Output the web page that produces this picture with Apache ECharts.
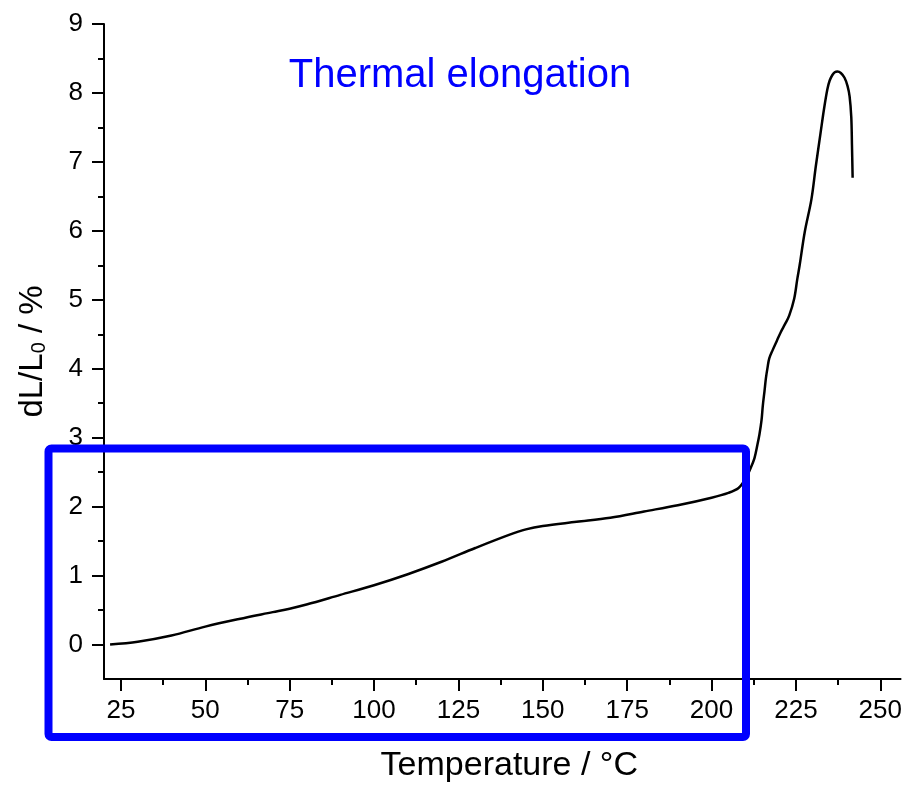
<!DOCTYPE html>
<html><head><meta charset="utf-8">
<script src="https://cdn.jsdelivr.net/npm/echarts@6/dist/echarts.min.js"></script>
<style>html,body{margin:0;padding:0;background:#fff}#c{width:905px;height:788px}</style>
</head><body><div id="c"></div>
<script>
const temperature = [21.8, 30, 40, 50, 60, 70, 75, 80, 90, 100, 110, 120, 130, 140, 145, 150, 160, 170, 180, 190, 200, 205, 208, 210, 211.5, 212.7, 213.6, 214.2, 214.8, 215.2, 215.7, 216.1, 216.6, 217.1, 218.1, 219.3, 220.5, 221.8, 223, 224.5, 225.4, 226.1, 227.6, 229.6, 230.9, 232.3, 233.3, 234.3, 235.0, 235.8, 236.5, 237.3, 238.3, 239.4, 240.3, 240.9, 241.4, 241.6, 241.8];
const elongation = [0.0, 0.04, 0.13, 0.26, 0.37, 0.47, 0.52, 0.58, 0.72, 0.86, 1.02, 1.20, 1.40, 1.59, 1.67, 1.72, 1.78, 1.84, 1.93, 2.02, 2.13, 2.20, 2.27, 2.40, 2.55, 2.70, 2.90, 3.05, 3.25, 3.47, 3.68, 3.86, 4.02, 4.15, 4.27, 4.40, 4.53, 4.65, 4.77, 5.02, 5.30, 5.50, 5.98, 6.46, 6.94, 7.42, 7.76, 8.05, 8.18, 8.26, 8.30, 8.31, 8.29, 8.22, 8.10, 7.95, 7.65, 7.25, 6.77];
const xMajorTicks = [25, 50, 75, 100, 125, 150, 175, 200, 225, 250];
const xMinorTicks = [37.5, 62.5, 87.5, 112.5, 137.5, 162.5, 187.5, 212.5, 237.5];
const yMajorTicks = [0, 1, 2, 3, 4, 5, 6, 7, 8, 9];
const yMinorTicks = [0.5, 1.5, 2.5, 3.5, 4.5, 5.5, 6.5, 7.5, 8.5];
const titleText = 'Thermal elongation';
const xName = 'Temperature / °C';

const FONT = 'Liberation Sans, Arial, Helvetica, sans-serif';
const X_MIN = 20, X_MAX = 256, Y_MIN = -0.5, Y_MAX = 9;

const chart = echarts.init(document.getElementById('c'), null, {renderer: 'canvas'});
const axisLine = {show: true, onZero: false, lineStyle: {color: '#000', width: 2}};
const option = {
  animation: false,
  backgroundColor: '#fff',
  grid: {left: 104, top: 24, right: 0, bottom: 106, containLabel: false},
  xAxis: [{
    type: 'value', min: X_MIN, max: X_MAX, position: 'bottom',
    axisLine: axisLine,
    axisTick: {show: true, length: 12, lineStyle: {color: '#000', width: 2}, customValues: xMajorTicks},
    axisLabel: {show: true, color: '#000', fontSize: 26, fontFamily: FONT, margin: 19, customValues: xMajorTicks},
    splitLine: {show: false},
    name: xName, nameLocation: 'middle', nameGap: 70,
    nameTextStyle: {color: '#000', fontSize: 34, fontFamily: FONT, padding: [0, 0, 0, 14]}
  }, {
    type: 'value', min: X_MIN, max: X_MAX, position: 'bottom',
    axisLine: {show: false, onZero: false},
    axisTick: {show: true, length: 6, lineStyle: {color: '#000', width: 2}, customValues: xMinorTicks},
    axisLabel: {show: false},
    splitLine: {show: false}
  }],
  yAxis: [{
    type: 'value', min: Y_MIN, max: Y_MAX, position: 'left',
    axisLine: axisLine,
    axisTick: {show: true, length: 12, lineStyle: {color: '#000', width: 2}, customValues: yMajorTicks},
    axisLabel: {show: true, color: '#000', fontSize: 26, fontFamily: FONT, margin: 21, customValues: yMajorTicks},
    splitLine: {show: false},
    name: '{a|dL/L}{s|0}{a| / %}', nameLocation: 'middle', nameGap: 55, nameRotate: 90,
    nameTextStyle: {
      color: '#000', fontSize: 33, fontFamily: FONT,
      rich: {
        a: {color: '#000', fontSize: 33, fontFamily: FONT, lineHeight: 33},
        s: {color: '#000', fontSize: 20, fontFamily: FONT, lineHeight: 20, verticalAlign: 'bottom'}
      }
    }
  }, {
    type: 'value', min: Y_MIN, max: Y_MAX, position: 'left',
    axisLine: {show: false, onZero: false},
    axisTick: {show: true, length: 6, lineStyle: {color: '#000', width: 2}, customValues: yMinorTicks},
    axisLabel: {show: false},
    splitLine: {show: false}
  }],
  series: [{
    type: 'line', xAxisIndex: 0, yAxisIndex: 0,
    data: temperature.map((t, i) => [t, elongation[i]]),
    showSymbol: false, smooth: 0.35,
    lineStyle: {color: '#000', width: 2.5},
    z: 3
  }, {
    type: 'line', xAxisIndex: 1, yAxisIndex: 1, data: [], showSymbol: false
  }],
  graphic: [{
    type: 'text', x: 460, y: 76, z: 100,
    style: {text: titleText, fill: '#0000ff', fontSize: 40, fontFamily: FONT, textAlign: 'center', textVerticalAlign: 'middle'}
  }, {
    type: 'rect', z: 100,
    shape: {x: 48.5, y: 448.5, width: 697.5, height: 288.5, r: 3},
    style: {fill: 'none', stroke: '#0000ff', lineWidth: 8}
  }]
};
chart.setOption(option);
</script>
</body></html>
